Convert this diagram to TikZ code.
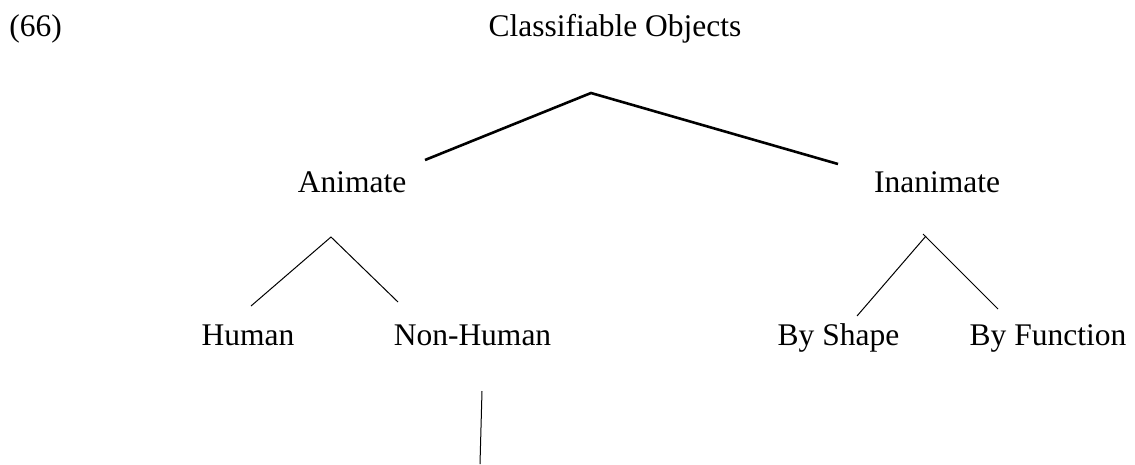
\documentclass[tikz,border=0pt]{standalone}
\usepackage{fontspec}
\setmainfont{Liberation Serif}
\begin{document}
\begin{tikzpicture}[x=1pt,y=-1pt,
  label/.style={inner sep=0pt,anchor=base,font=\fontsize{31.5}{38}\selectfont},
  thickedge/.style={line width=2.6pt},
  thinedge/.style={line width=1pt}]
\useasboundingbox (0,0) rectangle (1135,464);

% labels
\node[label] (num)   at (35.5,36)  {(66)};
\node[label] (root)  at (615,36)   {Classifiable Objects};
\node[label] (anim)  at (352,192)  {Animate};
\node[label] (inan)  at (937,192)  {Inanimate};
\node[label] (hum)   at (248,345)  {Human};
\node[label] (nonh)  at (472.5,345) {Non-Human};
\node[label] (shape) at (838.5,345) {By Shape};
\node[label] (func)  at (1048,345) {By Function};

% branch points and line ends
\coordinate (rootTop)  at (591,93);
\coordinate (animUp)   at (425,160);
\coordinate (inanUp)   at (838,164);
\coordinate (animTop)  at (331,237);
\coordinate (humUp)    at (251,306);
\coordinate (nonhUp)   at (398,302);
\coordinate (inanTopL) at (926,236);
\coordinate (inanTopR) at (923,234);
\coordinate (shapeUp)  at (857,316);
\coordinate (funcUp)   at (998,309);
\coordinate (nonhDown) at (482,391);
\coordinate (nonhEnd)  at (480,464);

% top level
\draw[thickedge] (animUp) -- (rootTop) -- (inanUp);
% animate branch
\draw[thinedge] (humUp) -- (animTop) -- (nonhUp);
% inanimate branch
\draw[thinedge] (shapeUp) -- (inanTopL);
\draw[thinedge] (inanTopR) -- (funcUp);
% non-human continues down
\draw[thinedge] (nonhDown) -- (nonhEnd);
\end{tikzpicture}
\end{document}
